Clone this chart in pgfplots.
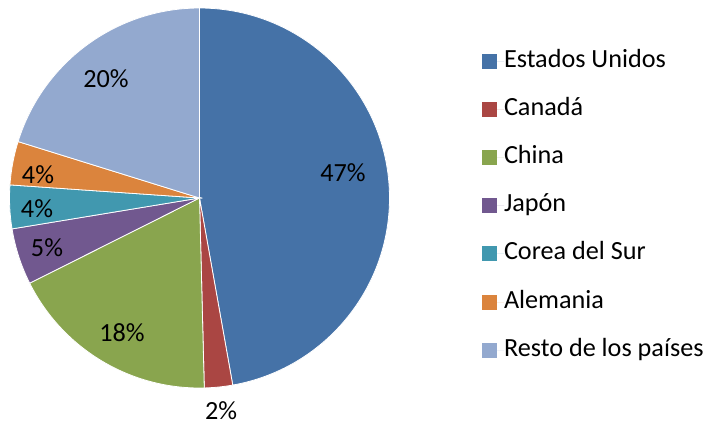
\documentclass[border=0pt]{standalone}
\usepackage{fontspec}
\setmainfont{Carlito}
\usepackage{pgfplots}
\usepackage{pgfplotstable}
\pgfplotsset{compat=1.18}
\definecolor{cUS}{HTML}{4572A7}
\definecolor{cCA}{HTML}{AA4643}
\definecolor{cCN}{HTML}{89A54E}
\definecolor{cJP}{HTML}{71588F}
\definecolor{cKR}{HTML}{4198AF}
\definecolor{cDE}{HTML}{DB843D}
\definecolor{cRE}{HTML}{93A9CF}
\pgfplotstableread[col sep=comma]{
name,value,lx,ly,col
Estados Unidos,47.2,343,173,cUS
Canadá,2.4,221,411,cCA
China,18.0,122,333,cCN
Japón,4.8,47,248,cJP
Corea del Sur,3.7,37,209,cKR
Alemania,3.7,38,175,cDE
Resto de los países,20.2,106,79,cRE
}\piedata
\begin{document}
\begin{tikzpicture}[font=\fontsize{13.1}{15.5}\selectfont]
\begin{axis}[
  x=0.5pt, y=0.5pt, y dir=reverse,
  xmin=0, xmax=710, ymin=0, ymax=424,
  hide axis, clip=false,
  /pgf/number format/assume math mode=true,
  legend image code/.code={\fill[#1] (0pt,-3.75pt) rectangle (7.5pt,3.75pt); \path (0pt,0pt) -- (11pt,0pt);},
  legend style={draw=none, fill=none, inner sep=0pt, outer sep=0pt,
    at={(axis cs:482,49)}, anchor=north west, row sep=12.1pt,
    font=\fontsize{13.1}{15.5}\selectfont,
    nodes={inner sep=0pt, text height=9pt, text depth=3pt}},
  legend cell align=left,
]
\path (axis cs:0,0) rectangle (axis cs:710,424);
\pgfplotstablegetrowsof{\piedata}
\pgfmathtruncatemacro\nrows{\pgfplotsretval-1}
\def\cum{0}
\pgfplotsforeachungrouped \i in {0,...,\nrows}{%
  \pgfplotstablegetelem{\i}{value}\of\piedata \let\val\pgfplotsretval
  \pgfplotstablegetelem{\i}{col}\of\piedata \let\col\pgfplotsretval
  \pgfplotstablegetelem{\i}{name}\of\piedata \let\nm\pgfplotsretval
  \pgfplotstablegetelem{\i}{lx}\of\piedata \let\lx\pgfplotsretval
  \pgfplotstablegetelem{\i}{ly}\of\piedata \let\ly\pgfplotsretval
  \pgfmathsetmacro\a{90-3.6*\cum}
  \pgfmathsetmacro\b{90-3.6*(\cum+\val)}
  \edef\cmd{%
    \noexpand\fill[fill=\col, draw=white, line width=0.4pt]
      (axis cs:199.5,198) -- ++(\a:95pt) arc[start angle=\a, end angle=\b, radius=95pt] -- cycle;
    \noexpand\node at (axis cs:\lx,\ly) {\noexpand\pgfmathprintnumber[fixed,precision=0,assume math mode=true]{\val}\noexpand\%};
    \noexpand\addlegendimage{fill=\col, draw=none}
    \noexpand\addlegendentry{\nm}
  }%
  \cmd
  \pgfmathsetmacro\cum{\cum+\val}%
}
\end{axis}
\end{tikzpicture}
\end{document}
